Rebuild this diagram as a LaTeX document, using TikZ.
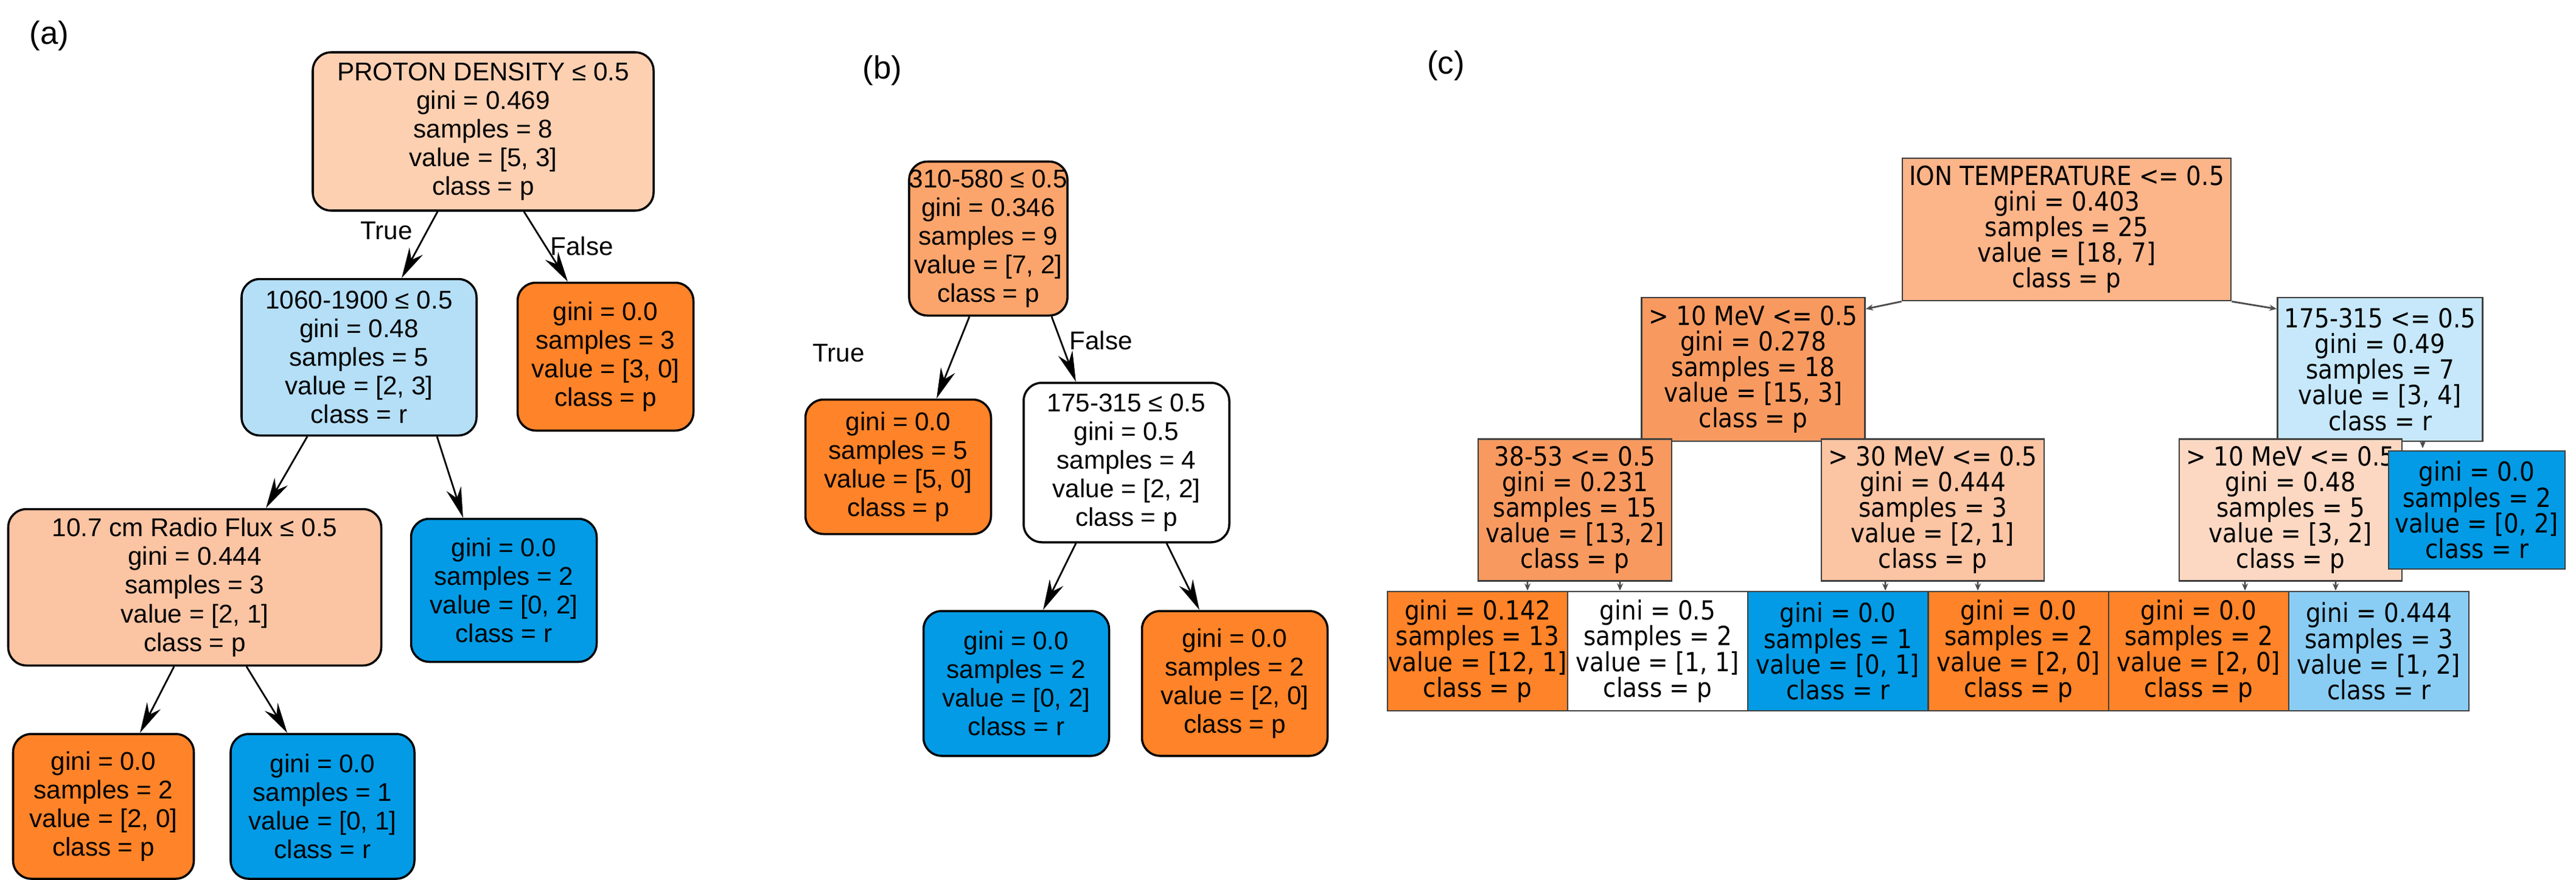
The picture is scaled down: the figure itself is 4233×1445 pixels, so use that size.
\documentclass[tikz,border=0pt]{standalone}
\usepackage{fontspec}
\setmainfont{Liberation Sans}
\newfontfamily\condfont{DejaVu Sans Condensed}
\usetikzlibrary{arrows.meta}

\definecolor{lorange}{RGB}{253,208,178}
\definecolor{orange}{RGB}{255,131,40}
\definecolor{blue}{RGB}{3,155,229}
\definecolor{lblue}{RGB}{180,223,247}
\definecolor{salmon}{RGB}{251,196,163}
\definecolor{midorange}{RGB}{251,165,108}
\definecolor{croot}{RGB}{252,180,137}
\definecolor{cdeep}{RGB}{248,154,96}
\definecolor{cpale}{RGB}{252,216,194}
\definecolor{cblue}{RGB}{198,232,250}
\definecolor{cmid}{RGB}{138,205,244}

\begin{document}
\begin{tikzpicture}[x=0.01cm, y=-0.01cm]
  \tikzset{box/.style 2 args={minimum width=#1*0.01cm, minimum height=#2*0.01cm}}
  \tikzset{leaf/.style={draw=black, line width=1pt, rounded corners=0.3cm, align=center, inner sep=0pt, font=\fontsize{12}{13.4}\selectfont}}
  \tikzset{sq/.style={draw=black!75, line width=0.8pt, align=center, inner sep=0pt, font=\condfont\fontsize{12.3}{12}\selectfont}}
  \tikzset{arrow/.style={draw, line width=0.8pt, -{Stealth[length=0.5cm, width=0.25cm]}}}
  \tikzset{carrow/.style={draw=black!70, line width=0.8pt, -{Stealth[length=0.12cm, width=0.1cm]}}}
  \tikzset{tag/.style={font=\fontsize{15}{17}\selectfont}}
  \useasboundingbox (0,0) rectangle (4233,1445);

  % panel labels
  \node (tagA) [tag] at (81,59) {(a)};
  \node (tagB) [tag] at (1450,116) {(b)};
  \node (tagC) [tag] at (2376,108) {(c)};

  % (a)
  \node (aroot) [leaf, box={560}{260}, fill=lorange] at (794,216) {PROTON DENSITY ≤ 0.5\\gini = 0.469\\samples = 8\\value = [5, 3]\\class = p};
  \node (a1060) [leaf, box={386}{257}, fill=lblue] at (590,587) {1060-1900 ≤ 0.5\\gini = 0.48\\samples = 5\\value = [2, 3]\\class = r};
  \node (afalse) [leaf, box={289}{243}, fill=orange] at (995,586) {gini = 0.0\\samples = 3\\value = [3, 0]\\class = p};
  \node (aflux) [leaf, box={613}{257}, fill=salmon] at (320,965) {10.7 cm Radio Flux ≤ 0.5\\gini = 0.444\\samples = 3\\value = [2, 1]\\class = p};
  \node (ablue) [leaf, box={305}{235}, fill=blue] at (828,970) {gini = 0.0\\samples = 2\\value = [0, 2]\\class = r};
  \node (aleafp) [leaf, box={297}{238}, fill=orange] at (170,1325) {gini = 0.0\\samples = 2\\value = [2, 0]\\class = p};
  \node (aleafr) [leaf, box={302}{238}, fill=blue] at (530,1325) {gini = 0.0\\samples = 1\\value = [0, 1]\\class = r};

  \draw [arrow] ([xshift=-0.75cm]aroot.south) -- ([xshift=0.7cm]a1060.north);
  \draw [arrow] ([xshift=0.67cm]aroot.south) -- ([xshift=-0.62cm]afalse.north);
  \draw [arrow] ([xshift=-0.85cm]a1060.south) -- ([xshift=1.17cm]aflux.north);
  \draw [arrow] ([xshift=1.28cm]a1060.south) -- ([xshift=-0.67cm]ablue.north);
  \draw [arrow] ([xshift=-0.34cm]aflux.south) -- ([xshift=0.6cm]aleafp.north);
  \draw [arrow] ([xshift=0.85cm]aflux.south) -- ([xshift=-0.58cm]aleafr.north);
  \node (atrue) [font=\fontsize{12}{14}\selectfont] at (635,379) {True};
  \node (afalsetxt) [font=\fontsize{12}{14}\selectfont] at (956,404) {False};

  % (b)
  \node (broot) [leaf, box={252}{253}, fill=midorange] at (1624,392) {310-580 ≤ 0.5\\gini = 0.346\\samples = 9\\value = [7, 2]\\class = p};
  \node (bleft) [leaf, box={305}{221}, fill=orange] at (1476,767) {gini = 0.0\\samples = 5\\value = [5, 0]\\class = p};
  \node (b175) [leaf, box={338}{262}, fill=white] at (1851,760) {175-315 ≤ 0.5\\gini = 0.5\\samples = 4\\value = [2, 2]\\class = p};
  \node (bblue) [leaf, box={305}{238}, fill=blue] at (1670,1123) {gini = 0.0\\samples = 2\\value = [0, 2]\\class = r};
  \node (borange) [leaf, box={305}{238}, fill=orange] at (2029,1123) {gini = 0.0\\samples = 2\\value = [2, 0]\\class = p};

  \draw [arrow] ([xshift=-0.31cm]broot.south) -- ([xshift=0.63cm]bleft.north);
  \draw [arrow] ([xshift=1.04cm]broot.south) -- ([xshift=-0.83cm]b175.north);
  \draw [arrow] ([xshift=-0.83cm]b175.south) -- ([xshift=0.44cm]bblue.north);
  \draw [arrow] ([xshift=0.66cm]b175.south) -- ([xshift=-0.58cm]borange.north);
  \node (btrue) [font=\fontsize{12}{14}\selectfont] at (1378,580) {True};
  \node (bfalse) [font=\fontsize{12}{14}\selectfont] at (1809,559) {False};

  % (c)
  \node (croot) [sq, box={540}{234}, fill=croot] at (3396,377) {ION TEMPERATURE <= 0.5\\gini = 0.403\\samples = 25\\value = [18, 7]\\class = p};
  \node (c10) [sq, box={367}{236}, fill=cdeep] at (2881,607) {> 10 MeV <= 0.5\\gini = 0.278\\samples = 18\\value = [15, 3]\\class = p};
  \node (c175) [sq, box={337}{236}, fill=cblue] at (3911,607) {175-315 <= 0.5\\gini = 0.49\\samples = 7\\value = [3, 4]\\class = r};
  \node (c38) [sq, box={318}{233}, fill=cdeep] at (2588,838) {38-53 <= 0.5\\gini = 0.231\\samples = 15\\value = [13, 2]\\class = p};
  \node (c30) [sq, box={366}{233}, fill=salmon] at (3176,838) {> 30 MeV <= 0.5\\gini = 0.444\\samples = 3\\value = [2, 1]\\class = p};
  \node (c10r) [sq, box={366}{233}, fill=cpale] at (3764,838) {> 10 MeV <= 0.5\\gini = 0.48\\samples = 5\\value = [3, 2]\\class = p};
  \node (cblue) [sq, box={290}{194}, fill=blue] at (4070,838) {gini = 0.0\\samples = 2\\value = [0, 2]\\class = r};
  \node (cl1) [sq, box={296}{196}, fill=orange] at (2428,1070) {gini = 0.142\\samples = 13\\value = [12, 1]\\class = p};
  \node (cl2) [sq, box={296}{196}, fill=white] at (2724,1070) {gini = 0.5\\samples = 2\\value = [1, 1]\\class = p};
  \node (cl3) [sq, box={296}{196}, fill=blue] at (3020,1070) {gini = 0.0\\samples = 1\\value = [0, 1]\\class = r};
  \node (cl4) [sq, box={296}{196}, fill=orange] at (3317,1070) {gini = 0.0\\samples = 2\\value = [2, 0]\\class = p};
  \node (cl5) [sq, box={296}{196}, fill=orange] at (3613,1070) {gini = 0.0\\samples = 2\\value = [2, 0]\\class = p};
  \node (cl6) [sq, box={296}{196}, fill=cmid] at (3909,1070) {gini = 0.444\\samples = 3\\value = [1, 2]\\class = r};

  \draw [carrow] (croot.south west) -- ([yshift=-0.2cm]c10.north east);
  \draw [carrow] (croot.south east) -- ([yshift=-0.2cm]c175.north west);
  \draw [carrow] ([xshift=0.7cm]c175.south) -- ([xshift=0.7cm,yshift=0.03cm]c175.south |- cblue.north);
  \draw [carrow] ([xshift=-0.78cm]c38.south) -- ([xshift=0.82cm]cl1.north);
  \draw [carrow] ([xshift=0.74cm]c38.south) -- ([xshift=-0.62cm]cl2.north);
  \draw [carrow] ([xshift=-0.78cm]c30.south) -- ([xshift=0.78cm]cl3.north);
  \draw [carrow] ([xshift=0.74cm]c30.south) -- ([xshift=-0.67cm]cl4.north);
  \draw [carrow] ([xshift=-0.75cm]c10r.south) -- ([xshift=0.76cm]cl5.north);
  \draw [carrow] ([xshift=0.74cm]c10r.south) -- ([xshift=-0.71cm]cl6.north);
\end{tikzpicture}
\end{document}
